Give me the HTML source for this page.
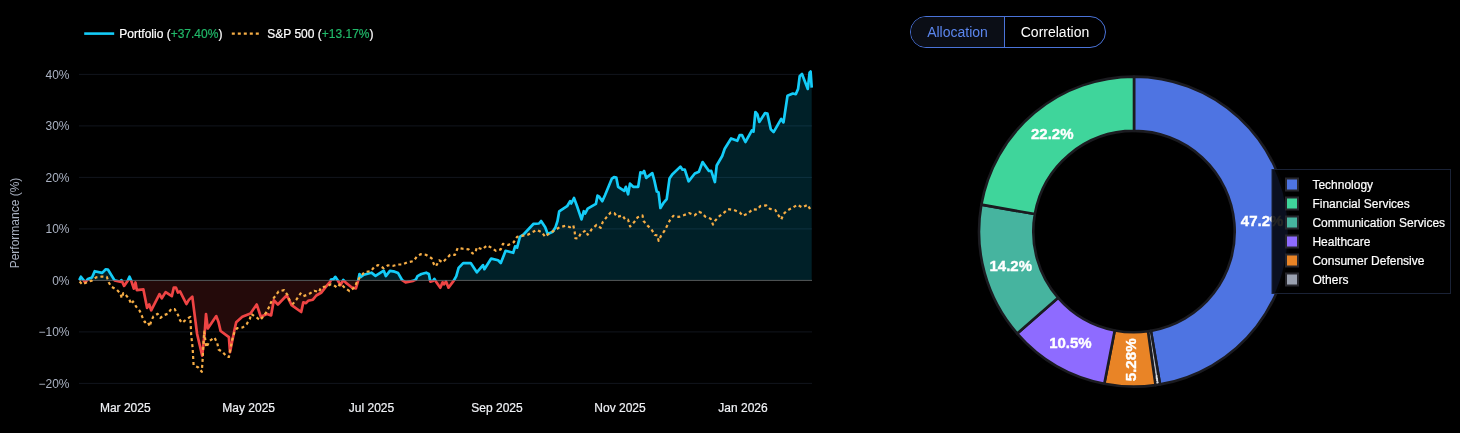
<!DOCTYPE html>
<html><head><meta charset="utf-8"><title>Portfolio</title>
<style>
html,body{margin:0;padding:0;background:#000;}
body{width:1460px;height:433px;overflow:hidden;position:relative;font-family:"Liberation Sans",Arial,sans-serif;}
svg{position:absolute;left:0;top:0;}
text{font-family:"Liberation Sans",Arial,sans-serif;}
.yt{font-size:12px;fill:#aab2c2;}
.xt{font-size:12px;fill:#f0f2f6;stroke:#f0f2f6;stroke-width:0.2px;}
.lg{font-size:12px;fill:#ffffff;stroke:#ffffff;stroke-width:0.2px;}
.pl{font-size:14px;font-weight:bold;fill:#ffffff;stroke:#ffffff;stroke-width:0.35px;}
.tabs{position:absolute;left:910px;top:16px;height:32px;width:196px;box-sizing:border-box;border:1px solid #4a73d9;border-radius:16px;overflow:hidden;display:flex;font-size:14px;}
.tabs div{height:30px;line-height:30px;text-align:center;box-sizing:border-box;}
.t1{width:94px;background:#0b0e16;color:#5b86ee;border-right:1px solid #4a73d9;}
.t2{width:100px;color:#fff;}
</style></head><body>
<svg width="1460" height="433" viewBox="0 0 1460 433">
<defs>
<clipPath id="up"><rect x="0" y="0" width="900" height="280.4"/></clipPath>
<clipPath id="dn"><rect x="0" y="280.4" width="900" height="200"/></clipPath>
</defs>
<rect width="1460" height="433" fill="#000"/>
<line x1="79" x2="812" y1="74.4" y2="74.4" stroke="#11151d" stroke-width="1"/>
<text x="69.5" y="78.7" text-anchor="end" class="yt">40%</text>
<line x1="79" x2="812" y1="125.9" y2="125.9" stroke="#11151d" stroke-width="1"/>
<text x="69.5" y="130.2" text-anchor="end" class="yt">30%</text>
<line x1="79" x2="812" y1="177.4" y2="177.4" stroke="#11151d" stroke-width="1"/>
<text x="69.5" y="181.7" text-anchor="end" class="yt">20%</text>
<line x1="79" x2="812" y1="228.9" y2="228.9" stroke="#11151d" stroke-width="1"/>
<text x="69.5" y="233.2" text-anchor="end" class="yt">10%</text>
<text x="69.5" y="284.7" text-anchor="end" class="yt">0%</text>
<line x1="79" x2="812" y1="331.9" y2="331.9" stroke="#11151d" stroke-width="1"/>
<text x="69.5" y="336.2" text-anchor="end" class="yt">−10%</text>
<line x1="79" x2="812" y1="383.4" y2="383.4" stroke="#11151d" stroke-width="1"/>
<text x="69.5" y="387.7" text-anchor="end" class="yt">−20%</text>

<path d="M79.3,280.4 L79.3,280.1 L80.9,276.7 L85.3,282.4 L87.8,279.1 L92.0,277.5 L94.7,271.2 L102.2,272.9 L105.8,269.3 L107.9,269.5 L114.6,280.4 L120.2,281.8 L121.4,280.1 L124.1,285.9 L127.9,280.4 L129.5,276.7 L131.2,280.6 L133.8,288.7 L135.5,282.5 L136.8,290.1 L143.4,289.4 L147.1,307.9 L149.2,304.5 L151.2,310.3 L159.5,294.2 L161.8,298.3 L165.6,292.1 L171.8,296.2 L173.8,287.6 L175.9,287.6 L177.9,292.5 L180.0,291.4 L186.4,304.0 L188.9,299.9 L192.3,296.6 L197.1,334.0 L202.2,355.6 L204.6,334.0 L206.0,314.0 L207.8,328.5 L216.3,316.1 L218.5,322.0 L220.6,331.0 L228.9,337.1 L230.0,352.2 L234.4,330.3 L236.2,322.3 L242.3,316.8 L250.5,313.4 L256.7,304.5 L260.8,316.8 L267.0,314.0 L271.1,315.4 L273.8,300.3 L277.9,304.5 L286.8,295.3 L291.6,305.1 L301.2,312.0 L303.3,302.4 L306.0,303.1 L308.1,300.8 L312.9,299.7 L316.3,295.5 L321.1,292.8 L326.2,286.4 L330.3,281.6 L331.0,279.5 L333.7,279.1 L335.3,276.8 L337.8,280.5 L340.5,285.0 L343.3,280.0 L346.0,282.9 L352.2,287.7 L355.9,288.4 L358.1,280.9 L359.5,274.0 L361.1,276.8 L363.8,274.7 L371.4,272.7 L375.5,275.8 L383.7,270.6 L385.8,276.1 L389.9,270.9 L394.7,271.7 L398.1,273.1 L402.2,280.2 L405.6,282.3 L413.2,280.9 L415.9,279.5 L417.5,276.1 L421.4,274.0 L426.2,272.7 L428.9,274.0 L430.3,281.6 L433.0,280.9 L434.4,278.8 L436.4,282.3 L440.3,287.7 L442.6,282.3 L444.0,284.3 L446.0,281.6 L448.5,287.7 L453.6,280.9 L456.3,276.1 L458.6,267.9 L463.2,263.1 L470.7,263.1 L476.8,272.3 L483.0,265.1 L484.4,269.2 L491.2,258.6 L498.1,260.3 L500.8,263.1 L505.6,250.8 L513.2,252.8 L515.1,246.4 L517.1,247.7 L519.9,236.8 L524.0,234.0 L533.6,223.8 L539.0,223.5 L541.1,221.0 L545.2,227.2 L547.7,234.0 L552.7,231.7 L555.5,227.2 L557.5,221.0 L559.2,211.4 L567.1,206.2 L570.1,201.2 L571.2,203.5 L574.0,198.0 L577.0,206.0 L581.5,219.4 L583.8,211.2 L585.2,213.5 L587.7,208.7 L595.9,203.9 L597.5,195.7 L598.9,196.4 L602.3,201.2 L605.1,195.0 L611.9,178.6 L614.0,177.2 L616.3,177.6 L618.1,186.8 L624.2,190.9 L625.9,186.8 L628.1,194.3 L630.0,183.6 L633.2,186.8 L638.2,186.8 L640.4,172.4 L642.7,173.1 L644.1,171.0 L646.2,177.9 L652.3,173.1 L654.4,180.6 L656.8,191.6 L658.5,192.3 L660.4,208.0 L663.3,203.2 L666.7,199.1 L669.5,178.6 L672.2,174.5 L680.4,166.6 L682.5,169.7 L684.8,169.7 L688.6,181.3 L694.8,173.5 L698.9,171.7 L702.6,162.1 L708.9,171.0 L711.2,170.8 L714.9,182.0 L716.7,165.5 L722.2,156.0 L724.7,148.7 L731.1,138.5 L737.3,140.8 L739.7,135.1 L742.0,135.1 L745.4,142.0 L751.9,130.4 L753.5,131.6 L755.4,112.0 L757.4,114.3 L759.3,121.9 L765.1,113.1 L767.4,113.6 L770.8,129.3 L773.6,132.1 L781.2,118.9 L783.5,122.4 L787.5,95.8 L792.8,93.5 L795.8,94.2 L798.1,88.9 L799.7,76.2 L802.0,73.9 L807.8,88.9 L809.6,72.7 L810.6,71.5 L811.7,87.7 L811.7,280.4 Z" fill="#00ccff" fill-opacity="0.155" clip-path="url(#up)"/>
<path d="M79.3,280.4 L79.3,280.1 L80.9,276.7 L85.3,282.4 L87.8,279.1 L92.0,277.5 L94.7,271.2 L102.2,272.9 L105.8,269.3 L107.9,269.5 L114.6,280.4 L120.2,281.8 L121.4,280.1 L124.1,285.9 L127.9,280.4 L129.5,276.7 L131.2,280.6 L133.8,288.7 L135.5,282.5 L136.8,290.1 L143.4,289.4 L147.1,307.9 L149.2,304.5 L151.2,310.3 L159.5,294.2 L161.8,298.3 L165.6,292.1 L171.8,296.2 L173.8,287.6 L175.9,287.6 L177.9,292.5 L180.0,291.4 L186.4,304.0 L188.9,299.9 L192.3,296.6 L197.1,334.0 L202.2,355.6 L204.6,334.0 L206.0,314.0 L207.8,328.5 L216.3,316.1 L218.5,322.0 L220.6,331.0 L228.9,337.1 L230.0,352.2 L234.4,330.3 L236.2,322.3 L242.3,316.8 L250.5,313.4 L256.7,304.5 L260.8,316.8 L267.0,314.0 L271.1,315.4 L273.8,300.3 L277.9,304.5 L286.8,295.3 L291.6,305.1 L301.2,312.0 L303.3,302.4 L306.0,303.1 L308.1,300.8 L312.9,299.7 L316.3,295.5 L321.1,292.8 L326.2,286.4 L330.3,281.6 L331.0,279.5 L333.7,279.1 L335.3,276.8 L337.8,280.5 L340.5,285.0 L343.3,280.0 L346.0,282.9 L352.2,287.7 L355.9,288.4 L358.1,280.9 L359.5,274.0 L361.1,276.8 L363.8,274.7 L371.4,272.7 L375.5,275.8 L383.7,270.6 L385.8,276.1 L389.9,270.9 L394.7,271.7 L398.1,273.1 L402.2,280.2 L405.6,282.3 L413.2,280.9 L415.9,279.5 L417.5,276.1 L421.4,274.0 L426.2,272.7 L428.9,274.0 L430.3,281.6 L433.0,280.9 L434.4,278.8 L436.4,282.3 L440.3,287.7 L442.6,282.3 L444.0,284.3 L446.0,281.6 L448.5,287.7 L453.6,280.9 L456.3,276.1 L458.6,267.9 L463.2,263.1 L470.7,263.1 L476.8,272.3 L483.0,265.1 L484.4,269.2 L491.2,258.6 L498.1,260.3 L500.8,263.1 L505.6,250.8 L513.2,252.8 L515.1,246.4 L517.1,247.7 L519.9,236.8 L524.0,234.0 L533.6,223.8 L539.0,223.5 L541.1,221.0 L545.2,227.2 L547.7,234.0 L552.7,231.7 L555.5,227.2 L557.5,221.0 L559.2,211.4 L567.1,206.2 L570.1,201.2 L571.2,203.5 L574.0,198.0 L577.0,206.0 L581.5,219.4 L583.8,211.2 L585.2,213.5 L587.7,208.7 L595.9,203.9 L597.5,195.7 L598.9,196.4 L602.3,201.2 L605.1,195.0 L611.9,178.6 L614.0,177.2 L616.3,177.6 L618.1,186.8 L624.2,190.9 L625.9,186.8 L628.1,194.3 L630.0,183.6 L633.2,186.8 L638.2,186.8 L640.4,172.4 L642.7,173.1 L644.1,171.0 L646.2,177.9 L652.3,173.1 L654.4,180.6 L656.8,191.6 L658.5,192.3 L660.4,208.0 L663.3,203.2 L666.7,199.1 L669.5,178.6 L672.2,174.5 L680.4,166.6 L682.5,169.7 L684.8,169.7 L688.6,181.3 L694.8,173.5 L698.9,171.7 L702.6,162.1 L708.9,171.0 L711.2,170.8 L714.9,182.0 L716.7,165.5 L722.2,156.0 L724.7,148.7 L731.1,138.5 L737.3,140.8 L739.7,135.1 L742.0,135.1 L745.4,142.0 L751.9,130.4 L753.5,131.6 L755.4,112.0 L757.4,114.3 L759.3,121.9 L765.1,113.1 L767.4,113.6 L770.8,129.3 L773.6,132.1 L781.2,118.9 L783.5,122.4 L787.5,95.8 L792.8,93.5 L795.8,94.2 L798.1,88.9 L799.7,76.2 L802.0,73.9 L807.8,88.9 L809.6,72.7 L810.6,71.5 L811.7,87.7 L811.7,280.4 Z" fill="#ef4444" fill-opacity="0.15" clip-path="url(#dn)"/>
<line x1="79" x2="812" y1="280.4" y2="280.4" stroke="#555a5a" stroke-width="1"/>
<path d="M79.3,280.1 L80.9,276.7 L85.3,282.4 L87.8,279.1 L92.0,277.5 L94.7,271.2 L102.2,272.9 L105.8,269.3 L107.9,269.5 L114.6,280.4 L120.2,281.8 L121.4,280.1 L124.1,285.9 L127.9,280.4 L129.5,276.7 L131.2,280.6 L133.8,288.7 L135.5,282.5 L136.8,290.1 L143.4,289.4 L147.1,307.9 L149.2,304.5 L151.2,310.3 L159.5,294.2 L161.8,298.3 L165.6,292.1 L171.8,296.2 L173.8,287.6 L175.9,287.6 L177.9,292.5 L180.0,291.4 L186.4,304.0 L188.9,299.9 L192.3,296.6 L197.1,334.0 L202.2,355.6 L204.6,334.0 L206.0,314.0 L207.8,328.5 L216.3,316.1 L218.5,322.0 L220.6,331.0 L228.9,337.1 L230.0,352.2 L234.4,330.3 L236.2,322.3 L242.3,316.8 L250.5,313.4 L256.7,304.5 L260.8,316.8 L267.0,314.0 L271.1,315.4 L273.8,300.3 L277.9,304.5 L286.8,295.3 L291.6,305.1 L301.2,312.0 L303.3,302.4 L306.0,303.1 L308.1,300.8 L312.9,299.7 L316.3,295.5 L321.1,292.8 L326.2,286.4 L330.3,281.6 L331.0,279.5 L333.7,279.1 L335.3,276.8 L337.8,280.5 L340.5,285.0 L343.3,280.0 L346.0,282.9 L352.2,287.7 L355.9,288.4 L358.1,280.9 L359.5,274.0 L361.1,276.8 L363.8,274.7 L371.4,272.7 L375.5,275.8 L383.7,270.6 L385.8,276.1 L389.9,270.9 L394.7,271.7 L398.1,273.1 L402.2,280.2 L405.6,282.3 L413.2,280.9 L415.9,279.5 L417.5,276.1 L421.4,274.0 L426.2,272.7 L428.9,274.0 L430.3,281.6 L433.0,280.9 L434.4,278.8 L436.4,282.3 L440.3,287.7 L442.6,282.3 L444.0,284.3 L446.0,281.6 L448.5,287.7 L453.6,280.9 L456.3,276.1 L458.6,267.9 L463.2,263.1 L470.7,263.1 L476.8,272.3 L483.0,265.1 L484.4,269.2 L491.2,258.6 L498.1,260.3 L500.8,263.1 L505.6,250.8 L513.2,252.8 L515.1,246.4 L517.1,247.7 L519.9,236.8 L524.0,234.0 L533.6,223.8 L539.0,223.5 L541.1,221.0 L545.2,227.2 L547.7,234.0 L552.7,231.7 L555.5,227.2 L557.5,221.0 L559.2,211.4 L567.1,206.2 L570.1,201.2 L571.2,203.5 L574.0,198.0 L577.0,206.0 L581.5,219.4 L583.8,211.2 L585.2,213.5 L587.7,208.7 L595.9,203.9 L597.5,195.7 L598.9,196.4 L602.3,201.2 L605.1,195.0 L611.9,178.6 L614.0,177.2 L616.3,177.6 L618.1,186.8 L624.2,190.9 L625.9,186.8 L628.1,194.3 L630.0,183.6 L633.2,186.8 L638.2,186.8 L640.4,172.4 L642.7,173.1 L644.1,171.0 L646.2,177.9 L652.3,173.1 L654.4,180.6 L656.8,191.6 L658.5,192.3 L660.4,208.0 L663.3,203.2 L666.7,199.1 L669.5,178.6 L672.2,174.5 L680.4,166.6 L682.5,169.7 L684.8,169.7 L688.6,181.3 L694.8,173.5 L698.9,171.7 L702.6,162.1 L708.9,171.0 L711.2,170.8 L714.9,182.0 L716.7,165.5 L722.2,156.0 L724.7,148.7 L731.1,138.5 L737.3,140.8 L739.7,135.1 L742.0,135.1 L745.4,142.0 L751.9,130.4 L753.5,131.6 L755.4,112.0 L757.4,114.3 L759.3,121.9 L765.1,113.1 L767.4,113.6 L770.8,129.3 L773.6,132.1 L781.2,118.9 L783.5,122.4 L787.5,95.8 L792.8,93.5 L795.8,94.2 L798.1,88.9 L799.7,76.2 L802.0,73.9 L807.8,88.9 L809.6,72.7 L810.6,71.5 L811.7,87.7" fill="none" stroke="#14ccf8" stroke-width="2.7" stroke-linejoin="round" clip-path="url(#up)"/>
<path d="M79.3,280.1 L80.9,276.7 L85.3,282.4 L87.8,279.1 L92.0,277.5 L94.7,271.2 L102.2,272.9 L105.8,269.3 L107.9,269.5 L114.6,280.4 L120.2,281.8 L121.4,280.1 L124.1,285.9 L127.9,280.4 L129.5,276.7 L131.2,280.6 L133.8,288.7 L135.5,282.5 L136.8,290.1 L143.4,289.4 L147.1,307.9 L149.2,304.5 L151.2,310.3 L159.5,294.2 L161.8,298.3 L165.6,292.1 L171.8,296.2 L173.8,287.6 L175.9,287.6 L177.9,292.5 L180.0,291.4 L186.4,304.0 L188.9,299.9 L192.3,296.6 L197.1,334.0 L202.2,355.6 L204.6,334.0 L206.0,314.0 L207.8,328.5 L216.3,316.1 L218.5,322.0 L220.6,331.0 L228.9,337.1 L230.0,352.2 L234.4,330.3 L236.2,322.3 L242.3,316.8 L250.5,313.4 L256.7,304.5 L260.8,316.8 L267.0,314.0 L271.1,315.4 L273.8,300.3 L277.9,304.5 L286.8,295.3 L291.6,305.1 L301.2,312.0 L303.3,302.4 L306.0,303.1 L308.1,300.8 L312.9,299.7 L316.3,295.5 L321.1,292.8 L326.2,286.4 L330.3,281.6 L331.0,279.5 L333.7,279.1 L335.3,276.8 L337.8,280.5 L340.5,285.0 L343.3,280.0 L346.0,282.9 L352.2,287.7 L355.9,288.4 L358.1,280.9 L359.5,274.0 L361.1,276.8 L363.8,274.7 L371.4,272.7 L375.5,275.8 L383.7,270.6 L385.8,276.1 L389.9,270.9 L394.7,271.7 L398.1,273.1 L402.2,280.2 L405.6,282.3 L413.2,280.9 L415.9,279.5 L417.5,276.1 L421.4,274.0 L426.2,272.7 L428.9,274.0 L430.3,281.6 L433.0,280.9 L434.4,278.8 L436.4,282.3 L440.3,287.7 L442.6,282.3 L444.0,284.3 L446.0,281.6 L448.5,287.7 L453.6,280.9 L456.3,276.1 L458.6,267.9 L463.2,263.1 L470.7,263.1 L476.8,272.3 L483.0,265.1 L484.4,269.2 L491.2,258.6 L498.1,260.3 L500.8,263.1 L505.6,250.8 L513.2,252.8 L515.1,246.4 L517.1,247.7 L519.9,236.8 L524.0,234.0 L533.6,223.8 L539.0,223.5 L541.1,221.0 L545.2,227.2 L547.7,234.0 L552.7,231.7 L555.5,227.2 L557.5,221.0 L559.2,211.4 L567.1,206.2 L570.1,201.2 L571.2,203.5 L574.0,198.0 L577.0,206.0 L581.5,219.4 L583.8,211.2 L585.2,213.5 L587.7,208.7 L595.9,203.9 L597.5,195.7 L598.9,196.4 L602.3,201.2 L605.1,195.0 L611.9,178.6 L614.0,177.2 L616.3,177.6 L618.1,186.8 L624.2,190.9 L625.9,186.8 L628.1,194.3 L630.0,183.6 L633.2,186.8 L638.2,186.8 L640.4,172.4 L642.7,173.1 L644.1,171.0 L646.2,177.9 L652.3,173.1 L654.4,180.6 L656.8,191.6 L658.5,192.3 L660.4,208.0 L663.3,203.2 L666.7,199.1 L669.5,178.6 L672.2,174.5 L680.4,166.6 L682.5,169.7 L684.8,169.7 L688.6,181.3 L694.8,173.5 L698.9,171.7 L702.6,162.1 L708.9,171.0 L711.2,170.8 L714.9,182.0 L716.7,165.5 L722.2,156.0 L724.7,148.7 L731.1,138.5 L737.3,140.8 L739.7,135.1 L742.0,135.1 L745.4,142.0 L751.9,130.4 L753.5,131.6 L755.4,112.0 L757.4,114.3 L759.3,121.9 L765.1,113.1 L767.4,113.6 L770.8,129.3 L773.6,132.1 L781.2,118.9 L783.5,122.4 L787.5,95.8 L792.8,93.5 L795.8,94.2 L798.1,88.9 L799.7,76.2 L802.0,73.9 L807.8,88.9 L809.6,72.7 L810.6,71.5 L811.7,87.7" fill="none" stroke="#ef4444" stroke-width="2.7" stroke-linejoin="round" clip-path="url(#dn)"/>
<path d="M79.6,281.6 L82.4,284.5 L87.5,282.0 L91.8,280.6 L96.1,277.3 L101.8,276.6 L106.8,276.9 L108.7,282.3 L111.1,286.6 L116.8,289.8 L120.4,293.5 L121.8,298.1 L123.3,293.1 L125.4,294.5 L129.0,298.8 L131.2,304.0 L133.0,301.5 L136.2,306.7 L139.8,311.0 L142.2,316.7 L144.8,322.2 L147.6,321.5 L149.8,326.5 L151.2,320.9 L153.4,316.4 L157.7,313.8 L160.5,317.9 L163.4,315.3 L167.7,313.8 L171.3,308.8 L174.7,309.2 L177.9,314.7 L180.0,320.2 L182.1,322.9 L186.2,319.5 L190.3,316.8 L191.2,335.1 L192.6,347.4 L193.6,365.2 L198.1,367.3 L201.8,371.8 L202.6,359.7 L203.6,340.5 L204.2,331.6 L206.3,347.4 L209.7,340.8 L214.5,337.5 L217.3,343.3 L218.6,349.5 L222.7,352.2 L226.8,356.7 L228.9,357.0 L230.3,349.5 L232.3,339.2 L234.4,332.3 L237.1,328.2 L242.6,327.5 L246.7,324.1 L249.9,318.8 L251.2,314.0 L256.7,317.5 L260.1,320.2 L263.6,316.1 L267.0,311.3 L269.7,305.8 L271.8,300.3 L275.2,296.2 L278.6,291.4 L284.1,290.1 L287.5,294.9 L289.6,300.3 L293.0,303.8 L296.4,299.7 L300.5,293.5 L303.3,296.2 L308.8,294.2 L314.2,290.8 L319.0,292.1 L321.1,287.3 L326.2,286.4 L331.0,284.3 L333.7,285.0 L337.1,287.7 L340.5,283.6 L344.7,287.7 L349.5,291.2 L354.9,287.1 L357.3,280.9 L360.4,276.8 L364.5,272.0 L370.7,271.3 L374.1,267.2 L378.2,265.1 L383.7,268.2 L387.8,265.4 L393.3,265.8 L398.1,264.5 L402.2,264.5 L407.0,262.4 L413.8,261.0 L416.6,256.9 L420.7,254.2 L426.2,254.9 L431.6,258.3 L433.7,263.8 L435.8,266.5 L439.2,260.3 L442.6,262.4 L446.7,258.3 L450.1,254.9 L454.9,254.9 L457.7,248.0 L462.5,248.7 L468.6,249.4 L472.7,253.5 L475.5,252.1 L476.8,247.3 L482.3,249.4 L487.1,245.3 L491.2,247.6 L496.0,250.8 L500.8,249.4 L502.9,243.9 L508.2,245.0 L513.7,242.3 L517.1,236.8 L521.9,235.8 L527.4,235.0 L532.2,232.3 L537.0,229.9 L541.8,232.3 L545.2,236.8 L550.0,232.7 L554.8,230.3 L559.6,227.2 L565.8,225.8 L569.9,227.2 L573.3,225.4 L574.7,232.0 L575.3,238.2 L578.1,238.6 L580.8,233.4 L585.6,230.6 L587.7,234.7 L591.8,229.2 L596.6,224.9 L600.7,227.9 L602.7,222.1 L606.8,216.9 L610.7,212.5 L614.4,213.2 L617.1,216.9 L622.6,215.5 L625.3,219.7 L628.1,219.7 L630.1,226.5 L634.2,222.1 L637.7,217.2 L642.5,215.5 L643.6,221.0 L647.3,225.4 L651.4,229.2 L654.8,235.0 L657.5,235.4 L658.6,240.9 L661.0,235.8 L664.4,230.9 L667.1,225.8 L669.9,220.3 L673.3,215.8 L678.8,216.9 L683.6,215.3 L689.0,213.1 L694.5,215.3 L699.0,211.8 L701.9,213.2 L705.4,216.7 L710.7,218.8 L713.0,224.6 L715.3,220.5 L719.4,216.2 L724.0,212.7 L728.1,209.2 L733.9,210.0 L739.8,212.4 L742.9,215.9 L748.3,213.2 L752.6,209.2 L757.2,209.7 L760.4,206.0 L766.2,205.4 L770.0,208.9 L775.3,210.0 L778.5,215.3 L781.3,219.4 L783.4,214.1 L787.2,210.4 L792.7,207.7 L797.4,204.8 L802.3,207.4 L807.9,204.8 L811.2,211.5" fill="none" stroke="#f6ad45" stroke-width="2.2" stroke-dasharray="3,3" stroke-linejoin="round"/>
<text x="125.3" y="411.8" text-anchor="middle" class="xt">Mar 2025</text>
<text x="248.7" y="411.8" text-anchor="middle" class="xt">May 2025</text>
<text x="371.5" y="411.8" text-anchor="middle" class="xt">Jul 2025</text>
<text x="497" y="411.8" text-anchor="middle" class="xt">Sep 2025</text>
<text x="620" y="411.8" text-anchor="middle" class="xt">Nov 2025</text>
<text x="743" y="411.8" text-anchor="middle" class="xt">Jan 2026</text>

<text transform="translate(18.5,223) rotate(-90)" text-anchor="middle" class="yt">Performance (%)</text>
<line x1="84.2" x2="114.2" y1="33.6" y2="33.6" stroke="#14ccf8" stroke-width="2.6"/>
<text x="119.3" y="37.8" class="lg">Portfolio (<tspan fill="#21b869" stroke="#21b869">+37.40%</tspan>)</text>
<line x1="231.8" x2="261.8" y1="33.6" y2="33.6" stroke="#f6ad45" stroke-width="2.2" stroke-dasharray="3,3"/>
<text x="267.3" y="37.8" class="lg">S&amp;P 500 (<tspan fill="#21b869" stroke="#21b869">+13.17%</tspan>)</text>
<path d="M1134.00,76.60 A155.0,155.0 0 0 1 1160.04,384.40 L1150.92,330.87 A100.7,100.7 0 0 0 1134.00,130.90 Z" fill="#4e74e2" stroke="#1b1b20" stroke-width="2.6" stroke-linejoin="round"/><path d="M1160.04,384.40 A155.0,155.0 0 0 1 1155.52,385.10 L1147.98,331.32 A100.7,100.7 0 0 0 1150.92,330.87 Z" fill="#b4bac6" stroke="#1b1b20" stroke-width="2.6" stroke-linejoin="round"/><path d="M1155.52,385.10 A155.0,155.0 0 0 1 1104.31,383.73 L1114.71,330.44 A100.7,100.7 0 0 0 1147.98,331.32 Z" fill="#e98426" stroke="#1b1b20" stroke-width="2.6" stroke-linejoin="round"/><path d="M1104.31,383.73 A155.0,155.0 0 0 1 1017.25,333.56 L1058.15,297.84 A100.7,100.7 0 0 0 1114.71,330.44 Z" fill="#8e6bff" stroke="#1b1b20" stroke-width="2.6" stroke-linejoin="round"/><path d="M1017.25,333.56 A155.0,155.0 0 0 1 981.37,204.62 L1034.84,214.07 A100.7,100.7 0 0 0 1058.15,297.84 Z" fill="#46b49f" stroke="#1b1b20" stroke-width="2.6" stroke-linejoin="round"/><path d="M981.37,204.62 A155.0,155.0 0 0 1 1134.00,76.60 L1134.00,130.90 A100.7,100.7 0 0 0 1034.84,214.07 Z" fill="#3fd59b" stroke="#1b1b20" stroke-width="2.6" stroke-linejoin="round"/>
<text x="1031" y="139" textLength="42.5" lengthAdjust="spacingAndGlyphs" class="pl">22.2%</text>
<text x="989.5" y="271" textLength="42.5" lengthAdjust="spacingAndGlyphs" class="pl">14.2%</text>
<text x="1049.2" y="347.8" textLength="42.5" lengthAdjust="spacingAndGlyphs" class="pl">10.5%</text>
<text transform="translate(1136.3,381.3) rotate(-90)" textLength="43" lengthAdjust="spacingAndGlyphs" class="pl">5.28%</text>
<text transform="translate(1157.6,383.3) rotate(-98.8)" font-size="3" font-weight="bold" fill="#fff" dy="1">0.62%</text>
<text x="1240.8" y="226" textLength="42.5" lengthAdjust="spacingAndGlyphs" class="pl">47.2%</text>
<rect x="1272" y="169.5" width="178.5" height="124" fill="#000" fill-opacity="0.86" stroke="#1a2236" stroke-width="1"/>
<rect x="1286" y="178.5" width="12" height="12" fill="#4e74e2" stroke="#26262c" stroke-width="2"/><text x="1312.4" y="188.8" class="lg">Technology</text>
<rect x="1286" y="197.5" width="12" height="12" fill="#3fd59b" stroke="#26262c" stroke-width="2"/><text x="1312.4" y="207.8" class="lg">Financial Services</text>
<rect x="1286" y="216.5" width="12" height="12" fill="#46b49f" stroke="#26262c" stroke-width="2"/><text x="1312.4" y="226.8" class="lg">Communication Services</text>
<rect x="1286" y="235.5" width="12" height="12" fill="#8e6bff" stroke="#26262c" stroke-width="2"/><text x="1312.4" y="245.8" class="lg">Healthcare</text>
<rect x="1286" y="254.5" width="12" height="12" fill="#e98426" stroke="#26262c" stroke-width="2"/><text x="1312.4" y="264.8" class="lg">Consumer Defensive</text>
<rect x="1286" y="273.5" width="12" height="12" fill="#9aa1b0" stroke="#26262c" stroke-width="2"/><text x="1312.4" y="283.8" class="lg">Others</text>

</svg>
<div class="tabs"><div class="t1">Allocation</div><div class="t2">Correlation</div></div>
</body></html>
